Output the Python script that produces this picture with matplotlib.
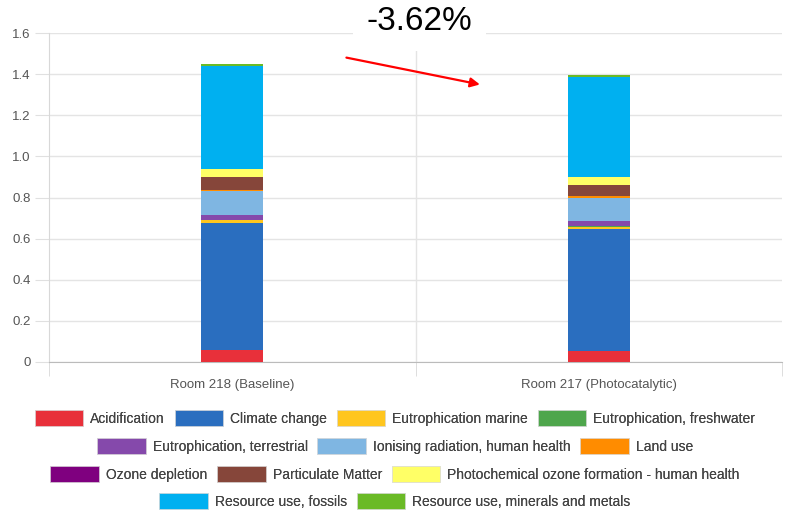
import matplotlib
matplotlib.use("Agg")
import matplotlib.pyplot as plt
from matplotlib.patches import Patch
import numpy as np

plt.rcParams["font.family"] = ["Liberation Sans", "DejaVu Sans"]

rooms = ["Room 218 (Baseline)", "Room 217 (Photocatalytic)"]
categories = [
    "Acidification", "Climate change", "Eutrophication marine",
    "Eutrophication, freshwater", "Eutrophication, terrestrial",
    "Ionising radiation, human health", "Land use", "Ozone depletion",
    "Particulate Matter", "Photochemical ozone formation - human health",
    "Resource use, fossils", "Resource use, minerals and metals",
]
colors = [
    "#e8303a", "#2a6ebf", "#ffc61e", "#4ea64c", "#8549ab", "#7fb6e2",
    "#ff8c00", "#7f007f", "#86463a", "#ffff66", "#00b0f0", "#6aba26",
]
baseline = [0.058, 0.617, 0.015, 0.002, 0.025, 0.113, 0.008, 0.0002, 0.060, 0.040, 0.500, 0.010]
photocat = [0.055, 0.590, 0.013, 0.002, 0.027, 0.110, 0.010, 0.0002, 0.053, 0.040, 0.486, 0.008]
change_label = "-3.62%"

values = np.array([baseline, photocat])

fig = plt.figure(figsize=(7.9, 5.11), dpi=100)
ax = fig.add_axes([0.062, 0.2916, 0.928, 0.6438])

x = np.arange(len(rooms))
bottom = np.zeros(len(rooms))
for i, cat in enumerate(categories):
    ax.bar(x, values[:, i], 0.17, bottom=bottom, color=colors[i], label=cat, zorder=3)
    bottom += values[:, i]

ax.set_xlim(-0.5, 1.5)
ax.set_ylim(0, 1.6)
ax.set_yticks(np.arange(0, 1.61, 0.2))
ax.set_yticklabels(["0"] + [f"{v:.1f}" for v in np.arange(0.2, 1.61, 0.2)])
ax.set_xticks(x)
ax.set_xticklabels(rooms)
ax.set_xticks([-0.5, 0.5, 1.5], minor=True)
ax.tick_params(axis="x", which="major", length=0, pad=12, labelsize=9.5, colors="#555555")
ax.tick_params(axis="x", which="minor", length=10, color="#d8d8d8")
ax.tick_params(axis="y", length=10, pad=3, labelsize=9.5, colors="#555555")
ax.tick_params(axis="y", color="#e0e0e0")
ax.grid(axis="y", color="#e4e4e4", linewidth=1, zorder=0)
ax.axvline(0.5, color="#e4e4e4", linewidth=1, zorder=0)
for side in ["top", "right"]:
    ax.spines[side].set_visible(False)
ax.spines["left"].set_color("#d8d8d8")
ax.spines["bottom"].set_color("#bbbbbb")

# percentage change annotation
fig.text(0.531, 0.958, change_label, ha="center", va="center", fontsize=24,
         bbox=dict(facecolor="white", edgecolor="none", pad=10))
ax.annotate("", xy=(0.683, 1.347), xytext=(0.304, 1.483),
            arrowprops=dict(arrowstyle="-|>", color="red", lw=1.6, mutation_scale=14))

# legend rows, each centered
handles = [Patch(facecolor=c, edgecolor="#dddddd", linewidth=0.5) for c in colors]
rows = [[0, 1, 2, 3], [4, 5, 6], [7, 8, 9], [10, 11]]
row_y = [0.182, 0.127, 0.072, 0.019]
for r, yy in zip(rows, row_y):
    leg = fig.legend([handles[i] for i in r], [categories[i] for i in r],
                     loc="center", bbox_to_anchor=(0.5, yy), ncol=len(r),
                     frameon=False, fontsize=10, handlelength=3.5, handleheight=1.35,
                     handletextpad=0.5, columnspacing=0.7, labelcolor="#444444")
    fig.add_artist(leg)

fig.savefig("out.png", dpi=100)
